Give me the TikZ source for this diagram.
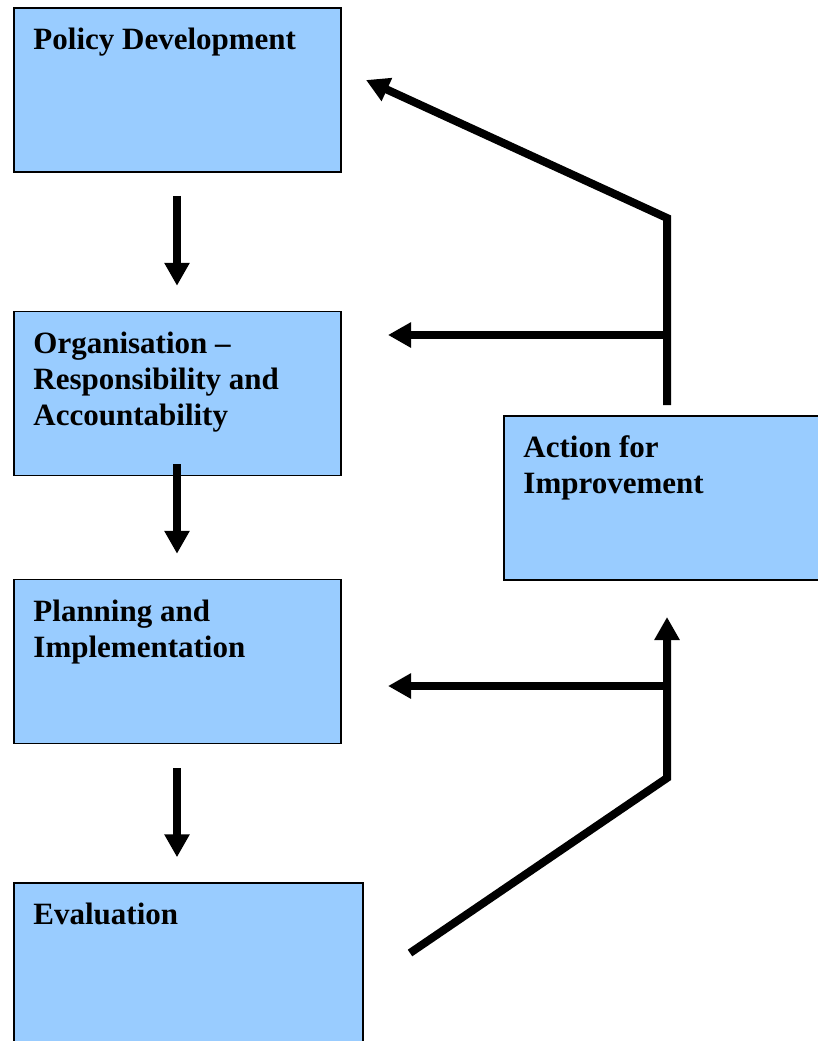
\documentclass[tikz,border=0pt]{standalone}
\usepackage{fontspec}
\setmainfont{Liberation Serif}
\usetikzlibrary{arrows.meta,positioning}

\definecolor{boxblue}{HTML}{99CCFF}

\tikzset{
  stage/.style={draw=black, line width=1.5pt, fill=boxblue,
    minimum width=327pt, minimum height=164pt, inner sep=0pt},
  stagetext/.style={anchor=north west, inner sep=0pt, align=left,
    font=\fontsize{31}{36}\selectfont\bfseries},
  flow/.style={line width=8pt, -{Triangle[length=23pt,width=24pt]}},
}

\begin{document}
\begin{tikzpicture}[x=1pt,y=-1pt]
  \useasboundingbox (0,0) rectangle (818,1041);
  \clip (0,0) rectangle (818,1041);

  % the four stages down the left
  \node[stage] (pol) at (177.5,90) {};
  \node[stage] (org) at (177.5,393.5) {};
  \node[stage] (plan) at (177.5,661.5) {};
  \node[stage, minimum width=349pt, minimum height=180pt] (eval) at (188.5,973) {};
  % feedback box on the right
  \node[stage, minimum width=340pt] (act) at (674,498) {};

  \node[stagetext] (poltxt) at ([xshift=20pt,yshift=-21pt]pol.north west) {Policy Development};
  \node[stagetext] (orgtxt) at ([xshift=20pt,yshift=-21pt]org.north west)
    {Organisation --\\Responsibility and\\Accountability};
  \node[stagetext] (plantxt) at ([xshift=20pt,yshift=-21pt]plan.north west)
    {Planning and\\Implementation};
  \node[stagetext] (evaltxt) at ([xshift=20pt,yshift=-21pt]eval.north west) {Evaluation};
  \node[stagetext] (acttxt) at ([xshift=20pt,yshift=-20pt]act.north west)
    {Action for\\Improvement};

  % downward flow
  \draw[flow] ([xshift=-0.5pt,yshift=-23pt]pol.south) -- ([xshift=-0.5pt,yshift=25pt]org.north);
  \draw[flow] ([xshift=-0.5pt,yshift=12pt]org.south) -- ([xshift=-0.5pt,yshift=25pt]plan.north);
  \draw[flow] ([xshift=-0.5pt,yshift=-24pt]plan.south) -- ([xshift=-0.5pt,yshift=25pt]plan.south |- eval.north);

  % feedback loop
  \coordinate (evalout) at (410,953);
  \coordinate (lowbend) at (667,778);
  \coordinate (actin) at (667,617);
  \coordinate (actout) at (667,405);
  \coordinate (topbend) at (667,218);
  \coordinate (polin) at (366,80);
  \coordinate (orgtap) at (667,335);
  \coordinate (orgin) at (388,335);
  \coordinate (plantap) at (667,686);
  \coordinate (planin) at (388,686);

  \draw[flow] (evalout) -- (lowbend) -- (actin);
  \draw[flow] (actout) -- (topbend) -- (polin);
  \draw[flow] (orgtap) -- (orgin);
  \draw[flow] (plantap) -- (planin);
\end{tikzpicture}
\end{document}
